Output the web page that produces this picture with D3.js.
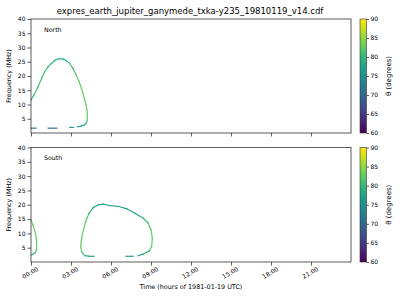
<!DOCTYPE html>
<html>
<head>
<meta charset="utf-8">
<script src="https://cdn.jsdelivr.net/npm/d3@7"></script>
<style>
  body { margin: 0; background: #fff; }
  svg { font-family: "DejaVu Sans", sans-serif; }
</style>
</head>
<body>
<div class="chart"></div>
<script>
//data: each track is a list of [time (h), frequency (MHz), theta (deg)]
const TITLE = "expres_earth_jupiter_ganymede_txka-y235_19810119_v14.cdf";
const PANELS = ["North", "South"];
const X_TICKS = [0, 3, 6, 9, 12, 15, 18, 21];
const Y_TICKS = [5, 10, 15, 20, 25, 30, 35, 40];
const CBAR_TICKS = [60, 65, 70, 75, 80, 85, 90];

const northArc = [
    [0.0, 11.6, 81], [0.2, 13.2, 81], [0.53, 16.2, 81], [0.8, 19.2, 80.5], [1.02, 21.5, 80.5],
    [1.28, 23.2, 80], [1.53, 24.4, 79.5], [1.8, 25.5, 79], [2.03, 26.0, 78.5], [2.4, 26.0, 78.5],
    [2.65, 25.4, 79], [2.9, 24.4, 80], [3.15, 22.6, 81], [3.4, 20.3, 82], [3.6, 18.1, 82.5],
    [3.78, 15.7, 83], [3.92, 13.6, 83], [4.03, 11.6, 83], [4.13, 9.8, 83], [4.2, 8.0, 83],
    [4.23, 6.2, 83], [4.22, 4.5, 82.5], [4.12, 3.4, 80], [4.0, 2.8, 78.5], [3.75, 2.4, 77.5], [3.5, 2.2, 76.5]
];
const northDashes = [
    [[0.0, 1.7, 71.5], [0.38, 1.7, 71.5]],
    [[1.28, 1.7, 69.5], [1.95, 1.7, 69.5]],
    [[2.9, 2.0, 75], [3.2, 2.0, 75]]
];

const southArcs = [
    [
        [0.0, 14.7, 83], [0.15, 12.9, 83], [0.33, 10.0, 83], [0.4, 8.2, 83], [0.42, 6.5, 83],
        [0.42, 4.2, 82.5], [0.3, 3.2, 80.5], [0.12, 2.6, 78.5], [0.0, 2.4, 77.5]
    ],
    [
        [4.73, 2.0, 76.5], [4.35, 2.0, 76.5], [4.05, 2.2, 78.5], [3.8, 3.4, 82], [3.73, 5.4, 83],
        [3.76, 7.0, 83], [3.8, 8.3, 83], [3.93, 11.2, 83], [4.1, 14.1, 82], [4.35, 17.0, 80.5],
        [4.67, 19.0, 79], [5.05, 20.0, 77.5], [5.42, 20.2, 76.5], [5.92, 19.7, 76.5], [6.55, 19.4, 76.5],
        [7.18, 18.6, 76.5], [7.8, 17.0, 77], [8.42, 15.3, 78.5], [8.8, 13.5, 81], [9.0, 11.2, 82],
        [9.1, 8.3, 83], [9.05, 5.4, 83], [8.85, 3.8, 81], [8.42, 2.8, 78], [8.05, 2.2, 77]
    ]
];
const southDashes = [
    [[7.12, 2.0, 76.5], [7.67, 2.0, 76.5]]
];

/*-----------------------------------init-----------------------------------*/

const WIDTH = 400;
const HEIGHT = 300;
const PLOT = { left: 31, right: 351 };
const PANEL_Y = [{ top: 19, bottom: 133 }, { top: 147.5, bottom: 262 }];
const CBAR = { left: 360, width: 6.5 };
const TEXT_COLOR = "#000";
const FRAME_COLOR = "#333";

const color = d3.scaleSequential(d3.interpolateViridis).domain([60, 90]);
const xScale = d3.scaleLinear().domain([0, 24]).range([PLOT.left, PLOT.right]);

const svg = d3.select(".chart").append("svg")
    .attr("width", WIDTH)
    .attr("height", HEIGHT);

// gradient for colorbars
const grad = svg.append("defs").append("linearGradient")
    .attr("id", "viridis")
    .attr("x1", 0).attr("y1", 1).attr("x2", 0).attr("y2", 0);
d3.range(0, 1.0001, 0.05).forEach(t => {
    grad.append("stop").attr("offset", t).attr("stop-color", d3.interpolateViridis(t));
});

svg.append("text")
    .attr("x", 190)
    .attr("y", 14)
    .attr("text-anchor", "middle")
    .attr("font-size", 8.5)
    .attr("fill", TEXT_COLOR)
    .text(TITLE);

const tracksFor = [
    northDashes.concat([northArc]),
    southDashes.concat(southArcs)
];

PANEL_Y.forEach((py, i) => {
    const yScale = d3.scaleLinear().domain([0, 40]).range([py.bottom, py.top]);
    const g = svg.append("g");

    // tracks drawn segment by segment so colour follows theta
    tracksFor[i].forEach(track => {
        const segs = d3.pairs(track);
        g.selectAll(null)
            .data(segs)
            .enter()
            .append("line")
            .attr("x1", d => xScale(d[0][0]))
            .attr("y1", d => yScale(d[0][1]))
            .attr("x2", d => xScale(d[1][0]))
            .attr("y2", d => yScale(d[1][1]))
            .attr("stroke", d => color((d[0][2] + d[1][2]) / 2))
            .attr("stroke-width", 1.15)
            .attr("stroke-linecap", "square");
    });

    //axes
    const yAxis = g.append("g")
        .attr("transform", `translate(${PLOT.left},0)`)
        .call(d3.axisLeft(yScale).tickValues(Y_TICKS).tickSize(3.5).tickPadding(2));
    const xAxis = g.append("g")
        .attr("transform", `translate(0,${py.bottom})`)
        .call(d3.axisBottom(xScale).tickValues(X_TICKS).tickSize(3.5)
            .tickFormat(i === 1 ? d => String(d).padStart(2, "0") + ":00" : ""));

    [yAxis, xAxis].forEach(a => {
        a.select(".domain").remove();
        a.selectAll("line").attr("stroke", FRAME_COLOR).attr("stroke-width", 0.8);
        a.selectAll("text").attr("font-size", 6).attr("fill", TEXT_COLOR)
            .attr("font-family", "DejaVu Sans");
    });

    if (i === 1) {
        xAxis.selectAll("text")
            .attr("text-anchor", "end")
            .attr("transform", "translate(2,-1) rotate(-30)")
            .attr("dy", "0.7em");
    }

    g.append("rect")
        .attr("x", PLOT.left)
        .attr("y", py.top)
        .attr("width", PLOT.right - PLOT.left)
        .attr("height", py.bottom - py.top)
        .attr("fill", "none")
        .attr("stroke", FRAME_COLOR)
        .attr("stroke-width", 0.8);

    g.append("text")
        .attr("x", 44)
        .attr("y", py.top + 12.5)
        .attr("font-size", 6.3)
        .attr("fill", TEXT_COLOR)
        .text(PANELS[i]);

    g.append("text")
        .attr("transform", `translate(11,${(py.top + py.bottom) / 2}) rotate(-90)`)
        .attr("text-anchor", "middle")
        .attr("font-size", 6.4)
        .attr("fill", TEXT_COLOR)
        .text("Frequency (MHz)");

    //colorbar
    const cScale = d3.scaleLinear().domain([60, 90]).range([py.bottom, py.top]);
    g.append("rect")
        .attr("x", CBAR.left)
        .attr("y", py.top)
        .attr("width", CBAR.width)
        .attr("height", py.bottom - py.top)
        .attr("fill", "url(#viridis)")
        .attr("stroke", FRAME_COLOR)
        .attr("stroke-width", 0.6);
    const cAxis = g.append("g")
        .attr("transform", `translate(${CBAR.left + CBAR.width},0)`)
        .call(d3.axisRight(cScale).tickValues(CBAR_TICKS).tickSize(2.5).tickPadding(1.5));
    cAxis.select(".domain").remove();
    cAxis.selectAll("line").attr("stroke", FRAME_COLOR).attr("stroke-width", 0.8);
    cAxis.selectAll("text").attr("font-size", 6).attr("fill", TEXT_COLOR)
        .attr("font-family", "DejaVu Sans");

    g.append("text")
        .attr("transform", `translate(391,${(py.top + py.bottom) / 2}) rotate(-90)`)
        .attr("text-anchor", "middle")
        .attr("font-size", 7)
        .attr("fill", TEXT_COLOR)
        .text("θ (degrees)");
});

svg.append("text")
    .attr("x", 191)
    .attr("y", 289)
    .attr("text-anchor", "middle")
    .attr("font-size", 6.4)
    .attr("fill", TEXT_COLOR)
    .text("Time (hours of 1981-01-19 UTC)");
</script>
</body>
</html>
